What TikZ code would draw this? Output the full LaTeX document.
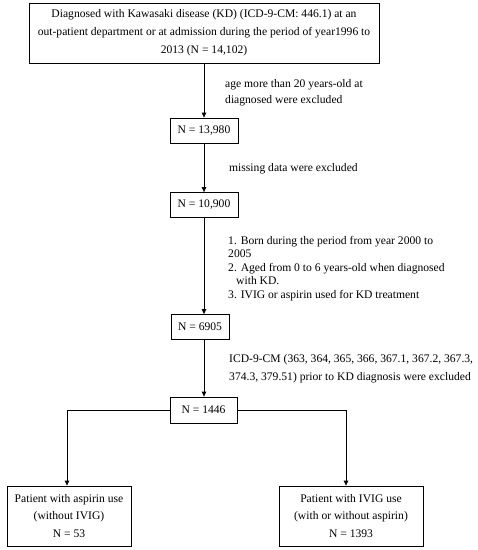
\documentclass[tikz,border=0pt]{standalone}
\usepackage{fontspec}
\setmainfont{Liberation Serif}
\usetikzlibrary{arrows.meta}
\begin{document}
\begin{tikzpicture}[x=1pt,y=-1pt,
  box/.style={draw,line width=0.8pt,align=center,inner sep=0pt,font=\fontsize{11.6}{18}\selectfont},
  lab/.style={anchor=base west,align=left,inner sep=0pt,font=\fontsize{11.6}{18}\selectfont},
  arr/.style={line width=0.8pt,-{Triangle[length=5pt,width=4.5pt]}}]
\useasboundingbox (0,0) rectangle (478,550);
\node[box,minimum width=350,minimum height=60] (top) at (204,33)
  {Diagnosed with Kawasaki disease (KD) (ICD-9-CM: 446.1) at an\\
   out-patient department or at admission during the period of year1996 to\\
   2013 (N = 14,102)};
\node[box,minimum width=68,minimum height=25] (n1) at (204,130.5) {N = 13,980};
\node[box,minimum width=68,minimum height=25] (n2) at (204,205) {N = 10,900};
\node[box,minimum width=58,minimum height=25] (n3) at (200,327) {N = 6905};
\node[box,minimum width=67,minimum height=26] (n4) at (203.5,410) {N = 1446};
\node[box,minimum width=124,minimum height=60,font=\fontsize{11.6}{17.5}\selectfont] (b1) at (69,516)
  {Patient with aspirin use\\(without IVIG)\\N = 53};
\node[box,minimum width=144,minimum height=60,font=\fontsize{11.6}{17.5}\selectfont] (b2) at (351,516)
  {Patient with IVIG use\\(with or without aspirin)\\N = 1393};
\node[lab,font=\fontsize{11.6}{16}\selectfont] (l1) at (225,103)
  {age more than 20 years-old at\\diagnosed were excluded};
\node[lab] (l2) at (229,171) {missing data were excluded};
\node[lab,font=\fontsize{11.6}{13.5}\selectfont] (l3) at (228,298)
  {1. Born during the period from year 2000 to\\2005\\2. Aged from 0 to 6 years-old when diagnosed\\\hspace*{8pt}with KD.\\3. IVIG or aspirin used for KD treatment};
\node[lab] (l4) at (229,380)
  {ICD-9-CM (363, 364, 365, 366, 367.1, 367.2, 367.3,\\374.3, 379.51) prior to KD diagnosis were excluded};
\draw[arr] (top.south) -- (n1.north);
\draw[arr] (n1.south) -- (n2.north);
\draw[arr] (n2.south) -- (n2.south |- n3.north);
\draw[arr] (n2.south |- n3.south) -- (n2.south |- n4.north);
\coordinate (c1) at ([xshift=-2]b1.north);
\coordinate (c2) at ([xshift=-5]b2.north);
\draw[arr] (n4.west) -| (c1);
\draw[arr] (n4.east) -| (c2);
\end{tikzpicture}
\end{document}
